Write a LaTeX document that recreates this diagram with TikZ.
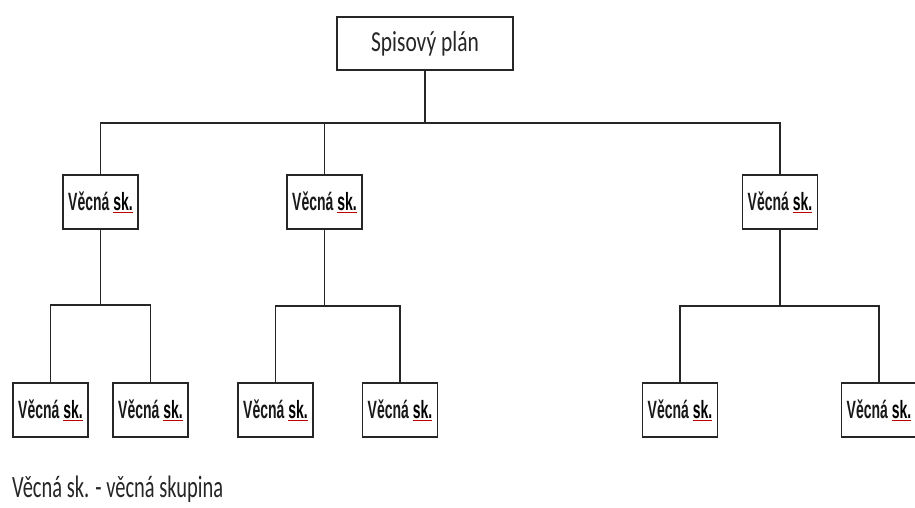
\documentclass[tikz,border=0pt]{standalone}
\usepackage{fontspec}
\setmainfont[FakeStretch=0.74]{Carlito}
\newfontfamily\legendfont[FakeStretch=0.66]{Carlito}
\newfontfamily\boxfont[FakeStretch=0.56]{Liberation Sans}
\usepackage{xcolor}
\newcommand\spellmark[1]{\textcolor{red!75!black}{\underline{\textcolor{black}{#1}}}}
\begin{document}
\begin{tikzpicture}[x=1pt,y=-1pt,
  topbox/.style={draw=black!85, line width=1.8pt, fill=white, minimum width=176pt, minimum height=53pt, inner sep=0pt, font=\fontsize{29}{31}\selectfont, text=black!85},
  subbox/.style={draw=black!85, line width=1.8pt, fill=white, minimum width=75pt, minimum height=54pt, inner sep=0pt, font=\boxfont\bfseries\fontsize{25}{27}\selectfont, text=black!90},
  conn/.style={draw=black!85, line width=1.6pt}]
\useasboundingbox[fill=white] (0,0) rectangle (915,507);
% top
\node[topbox] (top) at (425,43.5) {Spisový plán};
% level 1
\node[subbox] (a) at (100.5,202) {Věcná \spellmark{sk.}};
\node[subbox] (b) at (324.5,202) {Věcná \spellmark{sk.}};
\node[subbox] (c) at (780,202) {Věcná \spellmark{sk.}};
% level 2
\node[subbox] (a1) at (50.5,410) {Věcná \spellmark{sk.}};
\node[subbox] (a2) at (150.5,410) {Věcná \spellmark{sk.}};
\node[subbox] (b1) at (275.5,410) {Věcná \spellmark{sk.}};
\node[subbox] (b2) at (400,410) {Věcná \spellmark{sk.}};
\node[subbox] (c1) at (680,410) {Věcná \spellmark{sk.}};
\node[subbox] (c2) at (879,410) {Věcná \spellmark{sk.}};
% bars
\coordinate (t0) at (top.south |- 0,123);
\coordinate (a0) at (a.south |- 0,305);
\coordinate (b0) at (b.south |- 0,306);
\coordinate (c0) at (c.south |- 0,306);
\path[conn] (top.south) -- (t0);
\path[conn] (a.north) |- (t0) -| (c.north);
\path[conn] (t0) -| (b.north);
\path[conn] (a.south) -- (a0);
\path[conn] (a1.north) |- (a0) -| (a2.north);
\path[conn] (b.south) -- (b0);
\path[conn] (b1.north) |- (b0) -| (b2.north);
\path[conn] (c.south) -- (c0);
\path[conn] (c1.north) |- (c0) -| (c2.north);
% legend
\node[anchor=base west, inner sep=0pt, font=\legendfont\fontsize{31}{33}\selectfont, text=black!85] (legend) at (12,497) {Věcná sk. - věcná skupina};
\end{tikzpicture}
\end{document}
